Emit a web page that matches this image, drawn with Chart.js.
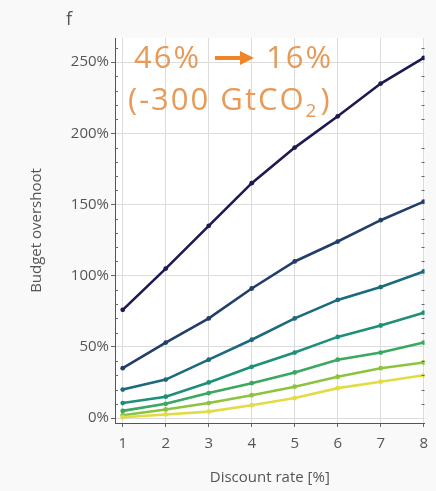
<!DOCTYPE html>
<html>
<head>
<meta charset="utf-8">
<script src="https://cdn.jsdelivr.net/npm/chart.js@4.4.1/dist/chart.umd.min.js"></script>
<style>
  html, body { margin: 0; padding: 0; background: #f9f9f9; }
  #wrap { position: relative; width: 436px; height: 491px; }
</style>
</head>
<body>
<div id="wrap"><canvas id="chart" width="436" height="491"></canvas></div>
<script>
// --- Data ---
const discountRates = [1, 2, 3, 4, 5, 6, 7, 8];
const xTicks = [1, 2, 3, 4, 5, 6, 7, 8];
const yTicks = [0, 50, 100, 150, 200, 250];

const series1 = [76, 105, 135, 165, 190, 212, 235, 253];
const series2 = [35, 53, 70, 91, 110, 124, 139, 152];
const series3 = [20, 27, 41, 55, 70, 83, 92, 103];
const series4 = [10.5, 15, 25, 36, 46, 57, 65, 74];
const series5 = [5, 10, 17.5, 24.5, 32, 41, 46, 53];
const series6 = [2, 6, 10.5, 16, 22, 29, 35, 39];
const series7 = [0.5, 2.5, 4.5, 9, 14, 21, 25.5, 30];

const allSeries = [series1, series2, series3, series4, series5, series6, series7];
const seriesColors = ['#1c1a52', '#213f68', '#1b6a7e', '#1f9078', '#3aa860', '#8cc43e', '#e2dc44'];

// --- Helpers ---
const toPoints = (vals) => vals.map((v, i) => ({ x: discountRates[i], y: v }));

const datasets = allSeries.map((vals, i) => ({
    data: toPoints(vals),
    borderColor: seriesColors[i],
    backgroundColor: seriesColors[i],
    borderWidth: 2.6,
    pointRadius: 2.4,
    pointBorderWidth: 0,
    tension: 0
})).reverse();

// --- Annotation / decoration plugin ---
const decorations = {
    id: 'decorations',
    beforeDraw(chart) {
        const { ctx, chartArea } = chart;
        ctx.save();
        ctx.fillStyle = '#ffffff';
        ctx.fillRect(chartArea.left, chartArea.top, chartArea.right - chartArea.left, chartArea.bottom - chartArea.top);
        ctx.restore();
    },
    afterDatasetsDraw(chart) {
        const { ctx, chartArea, scales } = chart;
        ctx.save();
        // minor ticks on y axis
        ctx.strokeStyle = '#666';
        ctx.lineWidth = 1;
        for (let v = 10; v < 265; v += 10) {
            if (v % 50 === 0) continue;
            const y = Math.round(scales.y.getPixelForValue(v)) + 0.5;
            ctx.beginPath();
            ctx.moveTo(chartArea.left, y);
            ctx.lineTo(chartArea.left + 3, y);
            ctx.moveTo(chartArea.right, y);
            ctx.lineTo(chartArea.right - 3, y);
            ctx.stroke();
        }
        // panel letter
        ctx.fillStyle = '#555';
        ctx.font = '18px "Open Sans"';
        ctx.textBaseline = 'alphabetic';
        ctx.fillText('f', 66, 25);

        // orange annotation
        const txt = '#e89a58';
        ctx.font = '31px "Open Sans"';
        ctx.letterSpacing = '2px';
        ctx.fillStyle = txt;
        ctx.fillText('46%', 134, 68);
        ctx.fillText('16%', 266, 68);
        // arrow
        ctx.strokeStyle = '#ee8526';
        ctx.fillStyle = '#ee8526';
        ctx.lineWidth = 4;
        ctx.beginPath();
        ctx.moveTo(215, 58);
        ctx.lineTo(243, 58);
        ctx.stroke();
        ctx.beginPath();
        ctx.moveTo(254, 58);
        ctx.lineTo(240, 51);
        ctx.lineTo(240, 65);
        ctx.closePath();
        ctx.fill();
        // second line
        ctx.fillStyle = txt;
        const part = '(-300 GtCO';
        ctx.fillText(part, 128, 110);
        const w = ctx.measureText(part).width;
        ctx.letterSpacing = '0px';
        ctx.font = '19px "Open Sans"';
        ctx.fillText('2', 128 + w, 117);
        const w2 = ctx.measureText('2').width;
        ctx.font = '31px "Open Sans"';
        ctx.fillText(')', 128 + w + w2 + 4, 110);
        ctx.restore();
    }
};

// --- Chart ---
const ctx = document.getElementById('chart').getContext('2d');
new Chart(ctx, {
    type: 'line',
    data: { datasets },
    plugins: [decorations],
    options: {
        responsive: false,
        animation: false,
        layout: { padding: { left: 24, right: 5, top: 38, bottom: 0 } },
        plugins: { legend: { display: false }, tooltip: { enabled: false } },
        scales: {
            x: {
                type: 'linear',
                min: 0.82,
                max: 8.02,
                afterBuildTicks: (s) => { s.ticks = xTicks.map(v => ({ value: v })); },
                afterFit: (s) => { s.height = 68; },
                grid: { color: '#dcdcdc', lineWidth: 1, tickLength: 4, tickColor: '#666' },
                border: { color: '#555', width: 1 },
                ticks: { color: '#555', font: { family: 'Open Sans', size: 15 }, padding: 8 },
                title: { display: true, text: 'Discount rate [%]', color: '#555', font: { family: 'Open Sans', size: 15 }, padding: { top: 10 } }
            },
            y: {
                min: -3.5,
                max: 267,
                afterBuildTicks: (s) => { s.ticks = yTicks.map(v => ({ value: v })); },
                afterFit: (s) => { s.width = 91; },
                grid: { color: '#dcdcdc', lineWidth: 1, tickLength: 4, tickColor: '#666' },
                border: { color: '#555', width: 1 },
                ticks: { color: '#555', font: { family: 'Open Sans', size: 15 }, padding: 2, callback: v => v + '%' },
                title: { display: true, text: 'Budget overshoot', color: '#555', font: { family: 'Open Sans', size: 15 }, padding: { bottom: 8 } }
            }
        }
    }
});
</script>
</body>
</html>
